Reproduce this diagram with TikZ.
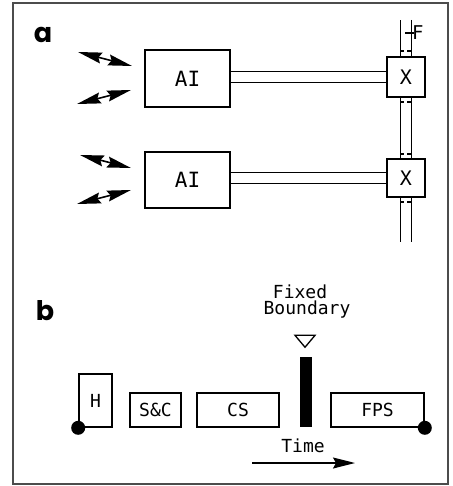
\documentclass[tikz,border=0pt]{standalone}
\usepackage{fontspec}
\usetikzlibrary{arrows.meta,shapes.geometric}
\newfontfamily\monof{DejaVu Sans Mono}
\newfontfamily\labf{Poppins}
\tikzset{
  box/.style={draw,line width=1.6pt,fill=white,inner sep=0pt,font=\monof\fontsize{18}{20}\selectfont},
  bus/.style={draw,line width=1.5pt,double=white,double distance=9.5pt},
  dart/.style={line width=1.6pt,{Stealth[length=24pt,width=11pt,inset=3pt]}-{Stealth[length=24pt,width=11pt,inset=3pt]}},
  tick/.style={line width=1.3pt,dash pattern=on 4pt off 3pt},
  txt/.style={font=\monof\fontsize{18}{20}\selectfont,inner sep=0pt},
  lbl/.style={font=\labf\bfseries\fontsize{27}{29}\selectfont,inner sep=0pt},
  dot/.style={circle,fill=black,minimum size=14pt,inner sep=0pt}
}
\begin{document}
\begin{tikzpicture}[x=1pt,y=-1pt]
\useasboundingbox (0,0) rectangle (452,486);
\draw[line width=1.6pt,black!70] (13,3) rectangle (448,484);
% part a
\node[lbl] (la) at (43,35) {a};
\coordinate (bustop) at (406,20);
\coordinate (busbot) at (406,242);
\draw[bus] (bustop) -- (busbot);
\node[box,font=\monof\fontsize{21}{23}\selectfont,minimum width=85pt,minimum height=57pt] (ai1) at (187.5,78.5) {AI};
\node[box,font=\monof\fontsize{21}{23}\selectfont,minimum width=85pt,minimum height=56pt] (ai2) at (187.5,180) {AI};
\node[box,font=\monof\fontsize{20}{22}\selectfont,minimum width=38pt,minimum height=40pt] (x1) at (406,77) {X};
\node[box,font=\monof\fontsize{20}{22}\selectfont,minimum width=38pt,minimum height=38pt] (x2) at (406,178) {X};
\draw[bus] (ai1.east |- x1.west) -- (x1.west);
\draw[bus] (ai2.east |- x2.west) -- (x2.west);
\foreach \yy in {51,102,154,202}{
  \draw[tick] (400,\yy) -- (412,\yy);
}
\coordinate (ft1) at (405,33);
\coordinate (ft2) at (414,33);
\draw[line width=1.4pt] (ft1) -- (ft2);
\node[txt,font=\monof\fontsize{19}{21}\selectfont,anchor=west] (f) at (412,33) {F};
\coordinate (p1) at (78,52);  \coordinate (q1) at (132,66);
\coordinate (p2) at (77,104); \coordinate (q2) at (131,90);
\coordinate (p3) at (80,155); \coordinate (q3) at (131,168);
\coordinate (p4) at (77,204); \coordinate (q4) at (131,190);
\draw[dart] (p1) -- (q1);
\draw[dart] (p2) -- (q2);
\draw[dart] (p3) -- (q3);
\draw[dart] (p4) -- (q4);
% part b
\node[lbl] (lb) at (45,311) {b};
\node[txt] (fixed) at (300,292) {Fixed};
\node[txt] (bound) at (307,310) {Boundary};
\node[draw,isosceles triangle,shape border rotate=-90,isosceles triangle apex angle=80,line width=1.3pt,minimum width=20pt,minimum height=10pt,inner sep=0pt] (tri) at (305,340) {};
\node[box,minimum width=33pt,minimum height=53pt] (h) at (95.5,400.5) {H};
\node[box,minimum width=51pt,minimum height=34pt] (sc) at (155.5,410) {S\&C};
\node[box,minimum width=82pt,minimum height=34pt] (cs) at (238,410) {CS};
\node[fill=black,minimum width=12pt,minimum height=70pt,inner sep=0pt] (bar) at (306,392) {};
\node[box,minimum width=93pt,minimum height=34pt] (fps) at (377.5,410) {FPS};
\node[dot] (d1) at (h.south west) {};
\node[dot] (d2) at (fps.south east) {};
\node[txt] (time) at (303,446) {Time};
\coordinate (t1) at (252,463);
\coordinate (t2) at (355,463);
\draw[line width=1.4pt,-{Stealth[length=22pt,width=11pt,inset=3pt]}] (t1) -- (t2);
\end{tikzpicture}
\end{document}
